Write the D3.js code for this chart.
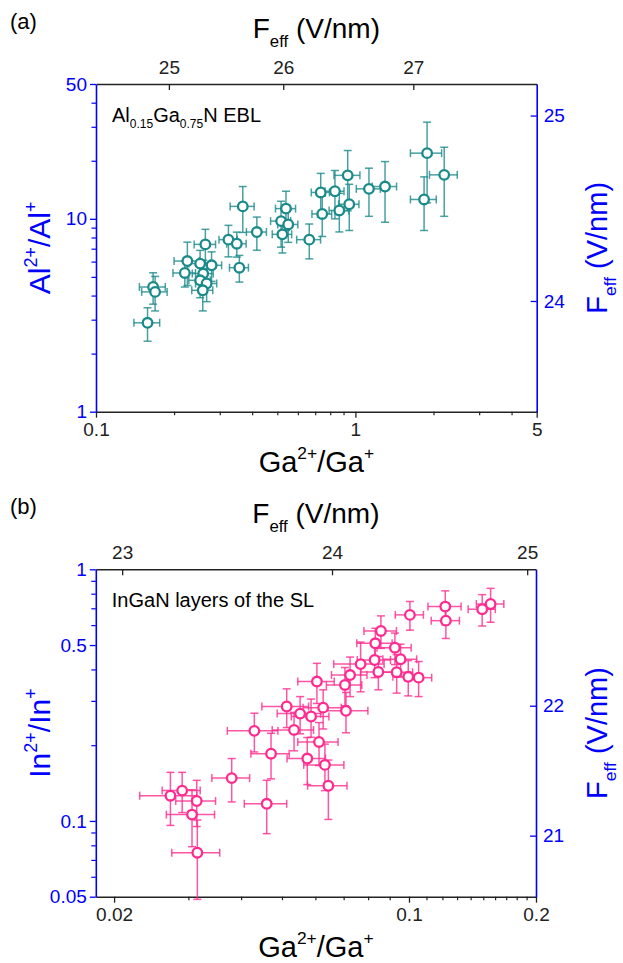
<!DOCTYPE html>
<html>
<head>
<meta charset="utf-8">
<script src="https://cdn.jsdelivr.net/npm/d3@7"></script>
<style>
  body { margin: 0; background: #fff; }
  svg { display: block; }
</style>
</head>
<body>
<script>
// ---------- Panel (a): Al0.15Ga0.75N EBL ----------
const aGaRatio = [1.89, 2.20, 1.84, 0.934, 0.735, 0.834, 0.745, 0.867, 0.947, 1.128, 1.301, 0.664,
  0.368, 0.540, 0.517, 0.551, 0.523, 0.417, 0.324, 0.349, 0.357, 0.264, 0.225, 0.220, 0.252,
  0.279, 0.259, 0.252, 0.267, 0.258, 0.166, 0.169, 0.158];
const aGaErr = [0.26, 0.27, 0.21, 0.107, 0.059, 0.07, 0.065, 0.075, 0.085, 0.12, 0.14, 0.07,
  0.039, 0.048, 0.046, 0.049, 0.045, 0.037, 0.026, 0.03, 0.03, 0.025, 0.025, 0.022, 0.024,
  0.026, 0.024, 0.024, 0.025, 0.024, 0.019, 0.019, 0.018];
const aAlRatio = [21.9, 16.9, 12.6, 16.8, 13.7, 13.9, 10.6, 11.05, 11.9, 14.3, 14.7, 7.8,
  11.6, 11.3, 9.73, 9.35, 8.31, 8.54, 7.8, 7.43, 5.58, 7.37, 6.04, 5.24, 5.86,
  5.74, 5.2, 4.8, 4.62, 4.26, 4.43, 4.18, 2.89];
const aAlErr = [9.8, 6.6, 3.9, 5.8, 3.5, 3.9, 2.5, 2.5, 3.2, 4.0, 5.1, 1.6,
  3.1, 2.6, 2.6, 1.8, 1.66, 1.67, 1.45, 1.1, 0.88, 1.45, 1.53, 0.81, 1.0,
  1.0, 0.9, 0.9, 0.9, 0.93, 0.82, 0.85, 0.57];
const aBottomTicks = [0.1, 1, 5];
const aBottomMinor = [0.2, 0.3, 0.4, 0.5, 0.6, 0.7, 0.8, 0.9, 2, 3, 4];
const aLeftTicks = [1, 10, 50];
const aLeftMinor = [2, 3, 4, 5, 6, 7, 8, 9, 20, 30, 40];
const aTopFeff = [25, 26, 27];          // field values on the top axis
const aTopAtGa = [0.191, 0.527, 1.672]; // Ga2+/Ga+ ratio at which each field value sits
const aRightFeff = [24, 25];
const aRightAtAl = [3.75, 34.3];        // Al2+/Al+ ratio at which each field value sits

// ---------- Panel (b): InGaN layers of the SL ----------
const bGaRatio = [0.1561, 0.1491, 0.1219, 0.1223, 0.1005, 0.0858, 0.0832, 0.0926, 0.0829, 0.0955,
  0.0768, 0.0846, 0.0935, 0.0725, 0.0996, 0.1054, 0.0705, 0.0605, 0.0626, 0.0709,
  0.0586, 0.0552, 0.0513, 0.0430, 0.0471, 0.0534, 0.0574, 0.0612, 0.0380, 0.0460,
  0.0272, 0.0290, 0.0314, 0.0306, 0.0315, 0.0632, 0.0644];
const bGaErr = [0.0117, 0.011, 0.011, 0.0094, 0.0077, 0.0076, 0.008, 0.0086, 0.0075, 0.0088,
  0.0105, 0.0078, 0.0085, 0.007, 0.008, 0.0078, 0.0068, 0.006, 0.0065, 0.009,
  0.006, 0.0065, 0.0065, 0.0059, 0.0049, 0.006, 0.006, 0.0067, 0.0039, 0.0053,
  0.0042, 0.003, 0.0034, 0.004, 0.0041, 0.0069, 0.0069];
const bInRatio = [0.728, 0.694, 0.711, 0.625, 0.659, 0.569, 0.508, 0.488, 0.436, 0.439,
  0.420, 0.391, 0.390, 0.380, 0.374, 0.371, 0.347, 0.358, 0.282, 0.274,
  0.260, 0.267, 0.285, 0.228, 0.185, 0.230, 0.177, 0.206, 0.148, 0.117,
  0.126, 0.132, 0.120, 0.106, 0.0748, 0.167, 0.138];
const bInErr = [0.112, 0.099, 0.11, 0.094, 0.086, 0.084, 0.075, 0.07, 0.065, 0.065,
  0.094, 0.059, 0.068, 0.068, 0.06, 0.059, 0.06, 0.065, 0.05, 0.05,
  0.045, 0.045, 0.05, 0.04, 0.038, 0.04, 0.0375, 0.04, 0.029, 0.028,
  0.030, 0.024, 0.025, 0.027, 0.026, 0.035, 0.0366];
const bBottomTicks = [0.02, 0.1, 0.2];
const bBottomMinor = [0.03, 0.04, 0.05, 0.06, 0.07, 0.08, 0.09, 0.11, 0.12, 0.13, 0.14, 0.15, 0.16, 0.17, 0.18, 0.19];
const bLeftTicks = [0.05, 0.1, 0.5, 1];
const bLeftMinor = [0.06, 0.07, 0.08, 0.09, 0.2, 0.3, 0.4, 0.6, 0.7, 0.8, 0.9];
const bTopFeff = [23, 24, 25];
const bTopAtGa = [0.0209, 0.0657, 0.1906];
const bRightFeff = [21, 22];
const bRightAtIn = [0.0874, 0.287];

const FONT = '"Liberation Sans", Arial, Helvetica, sans-serif';
const BLUE = "#0000ff";
const INK = "#222222";
const W = 623, H = 963;

const svg = d3.select("body").append("svg")
  .attr("width", W).attr("height", H)
  .attr("font-family", FONT);
svg.append("rect").attr("width", W).attr("height", H).attr("fill", "#fff");

// Writes text with sub/superscript pieces into a <text> element.
function rich(textSel, parts, fs) {
  let off = 0;
  parts.forEach(p => {
    const target = p.sub ? 0.32 * fs : p.sup ? -0.45 * fs : 0;
    textSel.append("tspan")
      .attr("dy", target - off)
      .attr("font-size", (p.sub || p.sup) ? fs * 0.6 : fs)
      .text(p.t);
    off = target;
  });
}

function styleAxis(sel, color, fs) {
  sel.attr("font-family", FONT).attr("font-size", fs);
  sel.select(".domain").attr("stroke", color).attr("stroke-width", 1.6);
  sel.selectAll(".tick line").attr("stroke", color).attr("stroke-width", 1.3);
  sel.selectAll(".tick text").attr("fill", color);
}

function minorTicks(g, axis, transform, color) {
  g.append("g").attr("transform", transform)
    .call(axis.tickFormat(() => ""))
    .call(s => s.select(".domain").remove())
    .call(s => s.selectAll(".tick line").attr("stroke", color).attr("stroke-width", 1.2));
}

function drawPanel(o) {
  const g = svg.append("g");
  const x = d3.scaleLog().domain(o.xDomain).range([o.left, o.right]);
  const y = d3.scaleLog().domain(o.yDomain).range([o.bottom, o.top]);
  const fmt = d => String(d);
  const TICK_FS = 19;

  // bottom axis (Ga2+/Ga+)
  g.append("g").attr("transform", `translate(0,${o.bottom})`)
    .call(d3.axisBottom(x).tickValues(o.xTicks).tickFormat(fmt).tickSize(6).tickSizeOuter(0).tickPadding(5))
    .call(s => styleAxis(s, INK, TICK_FS));
  minorTicks(g, d3.axisBottom(x).tickValues(o.xMinor).tickSize(3.5), `translate(0,${o.bottom})`, INK);

  // top axis (F_eff), ticks pointing inward
  g.append("g").attr("transform", `translate(0,${o.top})`)
    .call(d3.axisTop(x).tickValues(o.topAt).tickFormat((d, i) => o.topLabels[i]).tickSize(-6).tickSizeOuter(0).tickPadding(10))
    .call(s => styleAxis(s, INK, TICK_FS));

  // left axis (ion ratio)
  g.append("g").attr("transform", `translate(${o.left},0)`)
    .call(d3.axisLeft(y).tickValues(o.yTicks).tickFormat(fmt).tickSize(6).tickSizeOuter(0).tickPadding(3))
    .call(s => styleAxis(s, BLUE, TICK_FS));
  minorTicks(g, d3.axisLeft(y).tickValues(o.yMinor).tickSize(4.5), `translate(${o.left},0)`, BLUE);

  // right axis (F_eff), ticks pointing inward
  g.append("g").attr("transform", `translate(${o.right},0)`)
    .call(d3.axisRight(y).tickValues(o.rightAt).tickFormat((d, i) => o.rightLabels[i]).tickSize(-6).tickSizeOuter(0).tickPadding(7))
    .call(s => styleAxis(s, BLUE, TICK_FS));

  // error bars
  const data = o.xs.map((v, i) => ({ x: v, xe: o.xe[i], y: o.ys[i], ye: o.ye[i] }));
  const bars = g.append("g")
    .attr("stroke", o.color).attr("stroke-width", 1.5).attr("stroke-opacity", 0.8).attr("fill", "none");
  const cap = 4;
  data.forEach(d => {
    const cx = x(d.x), cy = y(d.y);
    const y1 = y(d.y + d.ye), y0 = y(d.y - d.ye);
    const x0 = x(d.x - d.xe), x1 = x(d.x + d.xe);
    bars.append("line").attr("x1", cx).attr("x2", cx).attr("y1", y1).attr("y2", y0);
    bars.append("line").attr("x1", cx - cap).attr("x2", cx + cap).attr("y1", y1).attr("y2", y1);
    bars.append("line").attr("x1", cx - cap).attr("x2", cx + cap).attr("y1", y0).attr("y2", y0);
    bars.append("line").attr("x1", x0).attr("x2", x1).attr("y1", cy).attr("y2", cy);
    bars.append("line").attr("x1", x0).attr("x2", x0).attr("y1", cy - cap).attr("y2", cy + cap);
    bars.append("line").attr("x1", x1).attr("x2", x1).attr("y1", cy - cap).attr("y2", cy + cap);
  });

  // open circle markers
  g.append("g").selectAll("circle").data(data).join("circle")
    .attr("cx", d => x(d.x)).attr("cy", d => y(d.y)).attr("r", 4.8)
    .attr("fill", "#fff").attr("stroke", o.color).attr("stroke-width", 2.3);

  // panel letter
  g.append("text").attr("x", 10).attr("y", o.top - 55).attr("font-size", 22).attr("fill", "#000").text(o.letter);

  // top title
  const cxMid = (o.left + o.right) / 2;
  rich(g.append("text").attr("x", cxMid).attr("y", o.top - 46).attr("text-anchor", "middle").attr("fill", "#000"),
    [{ t: "F" }, { t: "eff", sub: true }, { t: " (V/nm)" }], 28);

  // bottom title
  rich(g.append("text").attr("x", cxMid).attr("y", o.bottom + 60).attr("text-anchor", "middle").attr("fill", "#000"),
    o.xTitle, 29);

  // left title
  const cyMid = (o.top + o.bottom) / 2;
  rich(g.append("text").attr("transform", `translate(50,${cyMid}) rotate(-90)`).attr("text-anchor", "middle").attr("fill", BLUE),
    o.yTitle, 30);

  // right title
  rich(g.append("text").attr("transform", `translate(607,${cyMid}) rotate(-90)`).attr("text-anchor", "middle").attr("fill", BLUE),
    [{ t: "F" }, { t: "eff", sub: true }, { t: " (V/nm)" }], 29);

  // in-plot label
  rich(g.append("text").attr("x", o.left + 16).attr("y", o.top + 38).attr("fill", "#000"), o.note, 20);
}

drawPanel({
  letter: "(a)",
  left: 96, right: 536.7, top: 84, bottom: 411.7,
  xDomain: [0.1, 5], yDomain: [1, 50],
  xTicks: aBottomTicks, xMinor: aBottomMinor,
  yTicks: aLeftTicks, yMinor: aLeftMinor,
  topAt: aTopAtGa, topLabels: aTopFeff,
  rightAt: aRightAtAl, rightLabels: aRightFeff,
  xs: aGaRatio, xe: aGaErr, ys: aAlRatio, ye: aAlErr,
  color: "#1b8a8a",
  xTitle: [{ t: "Ga" }, { t: "2+", sup: true }, { t: "/Ga" }, { t: "+", sup: true }],
  yTitle: [{ t: "Al" }, { t: "2+", sup: true }, { t: "/Al" }, { t: "+", sup: true }],
  note: [{ t: "Al" }, { t: "0.15", sub: true }, { t: "Ga" }, { t: "0.75", sub: true }, { t: "N EBL" }]
});

drawPanel({
  letter: "(b)",
  left: 95.8, right: 536, top: 569.3, bottom: 896.7,
  xDomain: [0.0181, 0.2], yDomain: [0.05, 1],
  xTicks: bBottomTicks, xMinor: bBottomMinor,
  yTicks: bLeftTicks, yMinor: bLeftMinor,
  topAt: bTopAtGa, topLabels: bTopFeff,
  rightAt: bRightAtIn, rightLabels: bRightFeff,
  xs: bGaRatio, xe: bGaErr, ys: bInRatio, ye: bInErr,
  color: "#ff2a8f",
  xTitle: [{ t: "Ga" }, { t: "2+", sup: true }, { t: "/Ga" }, { t: "+", sup: true }],
  yTitle: [{ t: "In" }, { t: "2+", sup: true }, { t: "/In" }, { t: "+", sup: true }],
  note: [{ t: "InGaN layers of the SL" }]
});
</script>
</body>
</html>
